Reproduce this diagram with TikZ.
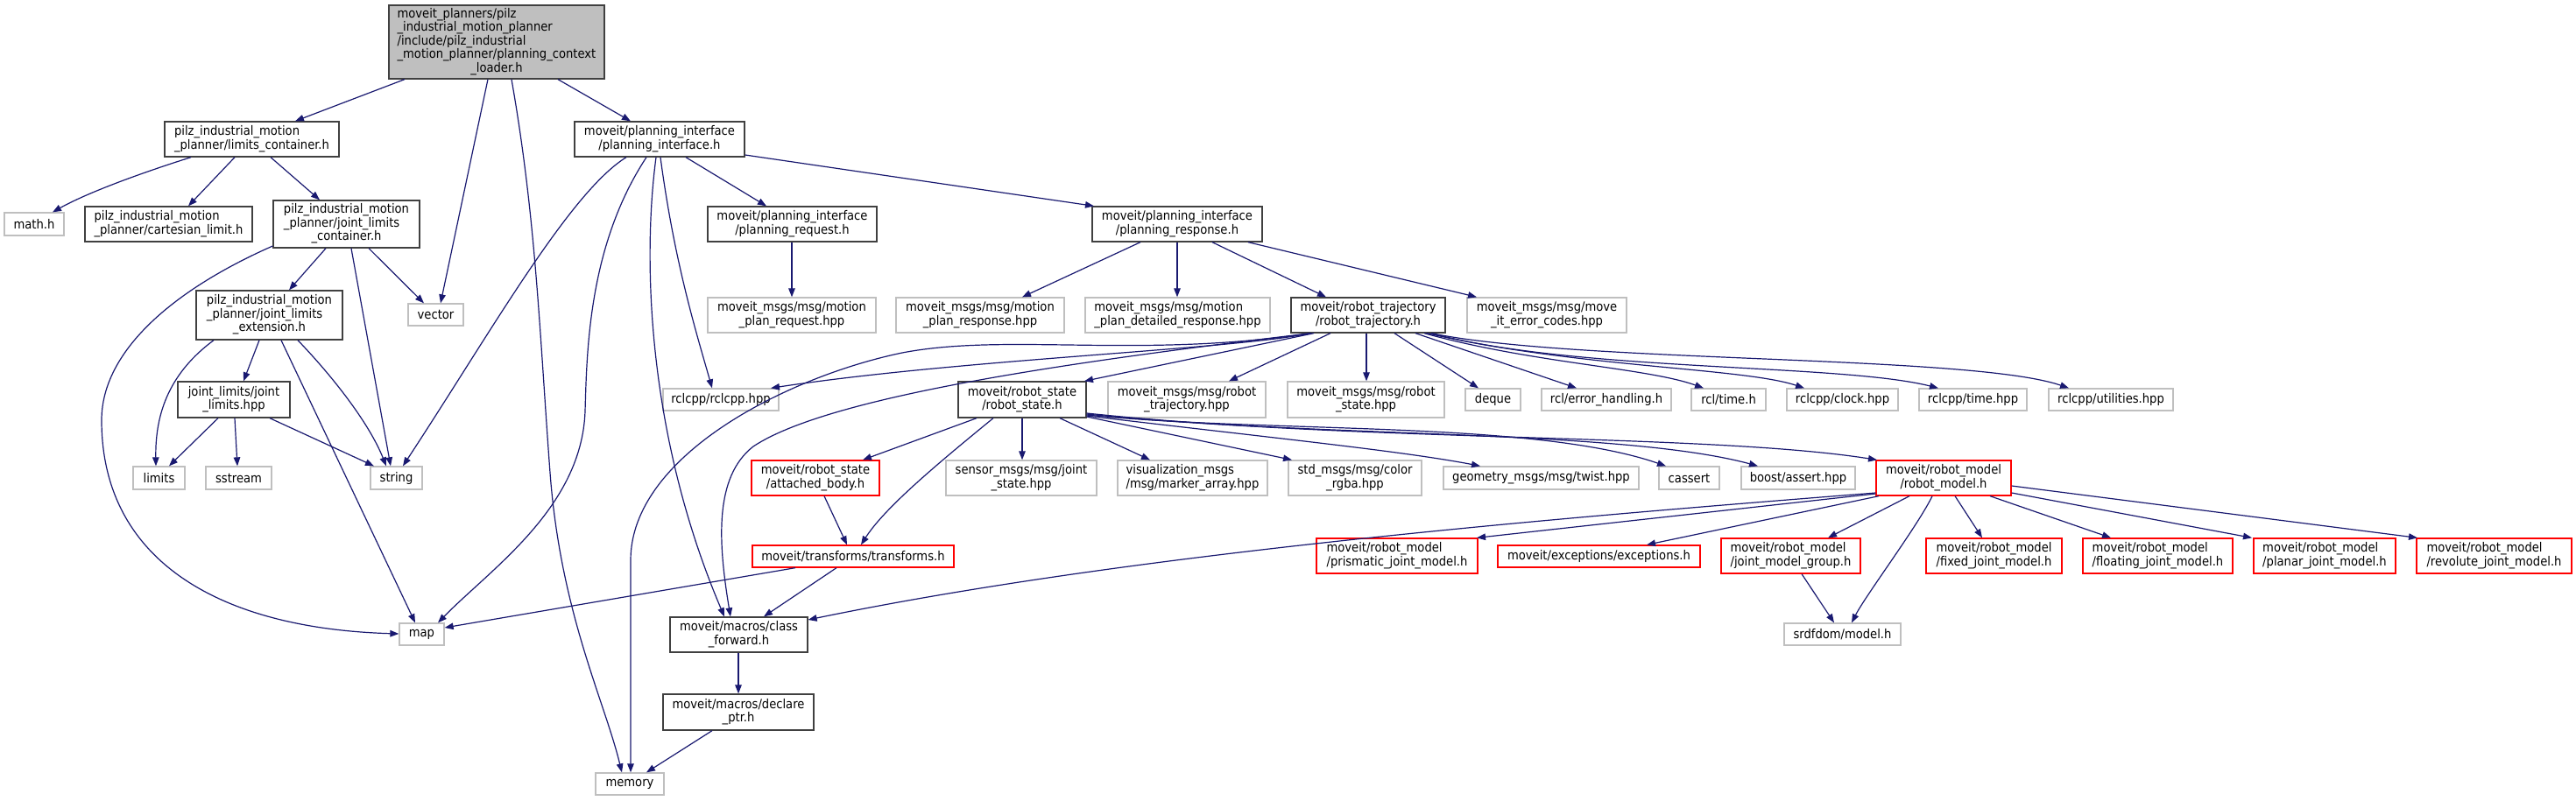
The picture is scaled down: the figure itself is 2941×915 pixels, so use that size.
\documentclass[tikz,border=0pt]{standalone}
\usepackage{fontspec}
\setmainfont{DejaVu Sans Condensed}
\usetikzlibrary{arrows.meta}
\definecolor{edgec}{HTML}{191970}
\definecolor{gfill}{HTML}{BFBFBF}
\definecolor{gdark}{HTML}{404040}
\renewcommand{\arraystretch}{1}
\newcommand\twol[2]{\begin{tabular}{@{}l@{}}#1\\\multicolumn{1}{@{}c@{}}{#2}\end{tabular}}
\newcommand\threel[3]{\begin{tabular}{@{}l@{}}#1\\#2\\\multicolumn{1}{@{}c@{}}{#3}\end{tabular}}
\newcommand\bx[7]{%
 \pgfmathsetmacro\bxw{#5-#3}\pgfmathsetmacro\bxh{#6-#4}%
 \pgfmathsetmacro\bxx{(#3+#5)/2}\pgfmathsetmacro\bxy{(#4+#6)/2}%
 \node[#2,minimum width=\bxw pt,minimum height=\bxh pt] (#1) at (\bxx,\bxy) {#7};}
\tikzset{
 box/.style={draw=gdark, line width=1.3pt, fill=white, inner sep=0pt, text=black, font={\fontsize{14.6pt}{14.8pt}\selectfont}},
 ext/.style={box, draw=gfill},
 trunc/.style={box, draw=red},
 root/.style={box, fill=gfill},
 edge/.style={draw=edgec, line width=1.2pt, -{Triangle[length=10pt,width=7.5pt]}},
}
\begin{document}
\begin{tikzpicture}[x=1pt,y=-1pt]
\fill[white] (0,0) rectangle (2941,915);
\useasboundingbox (0,0) rectangle (2941,915);
% nodes
\bx{top}{root}{444}{6}{690}{90}{\begin{tabular}{@{}l@{}}moveit\_planners/pilz\\\_industrial\_motion\_planner\\/include/pilz\_industrial\\\_motion\_planner/planning\_context\\\multicolumn{1}{@{}c@{}}{\_loader.h}\end{tabular}}
\bx{lc}{box}{188}{139}{387}{179}{\twol{pilz\_industrial\_motion}{\_planner/limits\_container.h}}
\bx{pi}{box}{656}{139}{850}{179}{\twol{moveit/planning\_interface}{/planning\_interface.h}}
\bx{math}{ext}{5}{243}{73}{269}{math.h}
\bx{cart}{box}{97}{236}{288}{276}{\twol{pilz\_industrial\_motion}{\_planner/cartesian\_limit.h}}
\bx{jlc}{box}{312}{229}{479}{283}{\threel{pilz\_industrial\_motion}{\_planner/joint\_limits}{\_container.h}}
\bx{preq}{box}{808}{236}{1001}{276}{\twol{moveit/planning\_interface}{/planning\_request.h}}
\bx{presp}{box}{1247}{236}{1441}{276}{\twol{moveit/planning\_interface}{/planning\_response.h}}
\bx{jle}{box}{224}{332}{391}{388}{\threel{pilz\_industrial\_motion}{\_planner/joint\_limits}{\_extension.h}}
\bx{vector}{ext}{466}{347}{529}{372}{vector}
\bx{mpreq}{ext}{808}{340}{1000}{380}{\twol{moveit\_msgs/msg/motion}{\_plan\_request.hpp}}
\bx{mpresp}{ext}{1023}{340}{1215}{380}{\twol{moveit\_msgs/msg/motion}{\_plan\_response.hpp}}
\bx{mpdet}{ext}{1239}{340}{1450}{380}{\twol{moveit\_msgs/msg/motion}{\_plan\_detailed\_response.hpp}}
\bx{rt}{box}{1474}{340}{1650}{380}{\twol{moveit/robot\_trajectory}{/robot\_trajectory.h}}
\bx{errc}{ext}{1675}{340}{1857}{380}{\twol{moveit\_msgs/msg/move}{\_it\_error\_codes.hpp}}
\bx{jlh}{box}{203}{436}{331}{477}{\twol{joint\_limits/joint}{\_limits.hpp}}
\bx{rclcpp}{ext}{757}{444}{889}{469}{rclcpp/rclcpp.hpp}
\bx{rs}{box}{1094}{436}{1240}{477}{\twol{moveit/robot\_state}{/robot\_state.h}}
\bx{rtmsg}{ext}{1265}{436}{1445}{477}{\twol{moveit\_msgs/msg/robot}{\_trajectory.hpp}}
\bx{rsmsg}{ext}{1470}{436}{1649}{477}{\twol{moveit\_msgs/msg/robot}{\_state.hpp}}
\bx{deque}{ext}{1673}{444}{1736}{469}{deque}
\bx{rclerr}{ext}{1760}{444}{1908}{469}{rcl/error\_handling.h}
\bx{rcltime}{ext}{1931}{444}{2016}{469}{rcl/time.h}
\bx{clock}{ext}{2040}{444}{2167}{469}{rclcpp/clock.hpp}
\bx{rtime}{ext}{2191}{444}{2314}{469}{rclcpp/time.hpp}
\bx{util}{ext}{2339}{444}{2481}{469}{rclcpp/utilities.hpp}
\bx{limits}{ext}{152}{533}{211}{559}{limits}
\bx{sstream}{ext}{235}{533}{310}{559}{sstream}
\bx{string}{ext}{423}{533}{482}{559}{string}
\bx{ab}{trunc}{858}{526}{1004}{566}{\twol{moveit/robot\_state}{/attached\_body.h}}
\bx{sensor}{ext}{1080}{526}{1252}{566}{\twol{sensor\_msgs/msg/joint}{\_state.hpp}}
\bx{vis}{ext}{1276}{526}{1447}{566}{\twol{visualization\_msgs}{/msg/marker\_array.hpp}}
\bx{color}{ext}{1471}{526}{1623}{566}{\twol{std\_msgs/msg/color}{\_rgba.hpp}}
\bx{twist}{ext}{1648}{533}{1871}{559}{geometry\_msgs/msg/twist.hpp}
\bx{cassert}{ext}{1894}{533}{1963}{559}{cassert}
\bx{boost}{ext}{1988}{533}{2118}{559}{boost/assert.hpp}
\bx{rm}{trunc}{2142}{526}{2296}{566}{\twol{moveit/robot\_model}{/robot\_model.h}}
\bx{transforms}{trunc}{859}{623}{1089}{648}{moveit/transforms/transforms.h}
\bx{prism}{trunc}{1503}{615}{1687}{655}{\twol{moveit/robot\_model}{/prismatic\_joint\_model.h}}
\bx{exc}{trunc}{1710}{623}{1941}{648}{moveit/exceptions/exceptions.h}
\bx{jmg}{trunc}{1965}{615}{2124}{655}{\twol{moveit/robot\_model}{/joint\_model\_group.h}}
\bx{fixed}{trunc}{2199}{615}{2354}{655}{\twol{moveit/robot\_model}{/fixed\_joint\_model.h}}
\bx{floating}{trunc}{2378}{615}{2549}{655}{\twol{moveit/robot\_model}{/floating\_joint\_model.h}}
\bx{planar}{trunc}{2573}{615}{2735}{655}{\twol{moveit/robot\_model}{/planar\_joint\_model.h}}
\bx{revolute}{trunc}{2759}{615}{2936}{655}{\twol{moveit/robot\_model}{/revolute\_joint\_model.h}}
\bx{map}{ext}{456}{712}{507}{737}{map}
\bx{cf}{box}{765}{705}{922}{745}{\twol{moveit/macros/class}{\_forward.h}}
\bx{srdf}{ext}{2037}{712}{2170}{737}{srdfdom/model.h}
\bx{dp}{box}{757}{793}{929}{834}{\twol{moveit/macros/declare}{\_ptr.h}}
\bx{memory}{ext}{680}{883}{758}{908}{memory}
% edges
\draw[edge] (462,0 |- top.south) -- (337,0 |- lc.north);
\draw[edge] (557,0 |- top.south) -- (503,0 |- vector.north);
\draw[edge] (584,0 |- top.south) .. controls (612,250) and (616,380) .. (628,540) .. controls (640,700) and (690,800) .. (710,0 |- memory.north);
\draw[edge] (637,0 |- top.south) -- (720,0 |- pi.north);
\draw[edge] (218,0 |- lc.south) .. controls (160,198) and (100,220) .. (60,0 |- math.north);
\draw[edge] (268,0 |- lc.south) -- (215,0 |- cart.north);
\draw[edge] (309,0 |- lc.south) -- (365,0 |- jlc.north);
\draw[edge] (jlc.west |- 0,281) .. controls (200,330) and (116,400) .. (116,480) .. controls (116,640) and (250,718) .. (map.west |- 0,724);
\draw[edge] (372,0 |- jlc.south) -- (330,0 |- jle.north);
\draw[edge] (401,0 |- jlc.south) -- (446,0 |- string.north);
\draw[edge] (421,0 |- jlc.south) -- (484,0 |- vector.north);
\draw[edge] (244,0 |- jle.south) .. controls (195,425) and (177,470) .. (178,0 |- limits.north);
\draw[edge] (296,0 |- jle.south) -- (278,0 |- jlh.north);
\draw[edge] (321,0 |- jle.south) -- (474,0 |- map.north);
\draw[edge] (340,0 |- jle.south) .. controls (375,425) and (420,480) .. (441,0 |- string.north);
\draw[edge] (249,0 |- jlh.south) -- (193,0 |- limits.north);
\draw[edge] (268,0 |- jlh.south) -- (271,0 |- sstream.north);
\draw[edge] (308,0 |- jlh.south) -- (427,0 |- string.north);
\draw[edge] (715,0 |- pi.south) .. controls (650,220) and (560,380) .. (460,0 |- string.north);
\draw[edge] (738,0 |- pi.south) .. controls (672,280) and (670,400) .. (668,470) .. controls (664,580) and (560,650) .. (500,0 |- map.north);
\draw[edge] (749,0 |- pi.south) .. controls (733,300) and (740,500) .. (827,0 |- cf.north);
\draw[edge] (754,0 |- pi.south) .. controls (770,300) and (795,380) .. (813,0 |- rclcpp.north);
\draw[edge] (783,0 |- pi.south) -- (875,0 |- preq.north);
\draw[edge] (pi.east |- 0,177) -- (1249,0 |- presp.north);
\draw[edge] (904,0 |- preq.south) -- (904,0 |- mpreq.north);
\draw[edge] (1302,0 |- presp.south) -- (1167,0 |- mpresp.north);
\draw[edge] (1344,0 |- presp.south) -- (1344,0 |- mpdet.north);
\draw[edge] (1384,0 |- presp.south) -- (1514,0 |- rt.north);
\draw[edge] (1425,0 |- presp.south) -- (1686,0 |- errc.north);
\draw[edge] (1497,0 |- rt.south) .. controls (1400,400) and (1100,410) .. (880,0 |- rclcpp.north);
\draw[edge] (1497,0 |- rt.south) .. controls (1300,410) and (1150,380) .. (1030,403) .. controls (900,430) and (720,520) .. (720,640) -- (720,0 |- memory.north);
\draw[edge] (1497,0 |- rt.south) .. controls (1250,410) and (950,450) .. (860,510) .. controls (815,545) and (820,620) .. (834,0 |- cf.north);
\draw[edge] (1500,0 |- rt.south) -- (1238,0 |- rs.north);
\draw[edge] (1519,0 |- rt.south) -- (1403,0 |- rtmsg.north);
\draw[edge] (1560,0 |- rt.south) -- (1560,0 |- rsmsg.north);
\draw[edge] (1592,0 |- rt.south) -- (1688,0 |- deque.north);
\draw[edge] (1616,0 |- rt.south) -- (1800,0 |- rclerr.north);
\draw[edge] (1626,0 |- rt.south) .. controls (1750,415) and (1880,420) .. (1945,0 |- rcltime.north);
\draw[edge] (1629,0 |- rt.south) .. controls (1800,420) and (1990,420) .. (2060,0 |- clock.north);
\draw[edge] (1634,0 |- rt.south) .. controls (1800,425) and (2100,415) .. (2213,0 |- rtime.north);
\draw[edge] (1634,0 |- rt.south) .. controls (1800,415) and (2250,405) .. (2362,0 |- util.north);
\draw[edge] (1115,0 |- rs.south) -- (985,0 |- ab.north);
\draw[edge] (1134,0 |- rs.south) .. controls (1070,530) and (1010,580) .. (983,0 |- transforms.north);
\draw[edge] (1167,0 |- rs.south) -- (1167,0 |- sensor.north);
\draw[edge] (1210,0 |- rs.south) -- (1313,0 |- vis.north);
\draw[edge] (rs.east |- 0,476) -- (1475,0 |- color.north);
\draw[edge] (rs.east |- 0,475) .. controls (1450,500) and (1600,515) .. (1690,0 |- twist.north);
\draw[edge] (rs.east |- 0,474) .. controls (1450,495) and (1750,480) .. (1902,0 |- cassert.north);
\draw[edge] (rs.east |- 0,473) .. controls (1500,500) and (1850,490) .. (2007,0 |- boost.north);
\draw[edge] (rs.east |- 0,472) .. controls (1550,505) and (1950,495) .. (2143,0 |- rm.north);
\draw[edge] (941,0 |- ab.south) -- (967,0 |- transforms.north);
\draw[edge] (908,0 |- transforms.south) -- (map.east |- 0,717);
\draw[edge] (955,0 |- transforms.south) -- (872,0 |- cf.north);
\draw[edge] (rm.west |- 0,563) .. controls (1800,590) and (1300,630) .. (cf.east |- 0,708);
\draw[edge] (rm.west |- 0,564) -- (1686,0 |- prism.north);
\draw[edge] (2145,0 |- rm.south) -- (1880,0 |- exc.north);
\draw[edge] (2180,0 |- rm.south) -- (2087,0 |- jmg.north);
\draw[edge] (2206,0 |- rm.south) .. controls (2190,600) and (2130,680) .. (2114,0 |- srdf.north);
\draw[edge] (2232,0 |- rm.south) -- (2263,0 |- fixed.north);
\draw[edge] (2272,0 |- rm.south) -- (2410,0 |- floating.north);
\draw[edge] (rm.east |- 0,563) -- (2571,0 |- planar.north);
\draw[edge] (rm.east |- 0,555) -- (2760,0 |- revolute.north);
\draw[edge] (2057,0 |- jmg.south) -- (2094,0 |- srdf.north);
\draw[edge] (843,0 |- cf.south) -- (843,0 |- dp.north);
\draw[edge] (813,0 |- dp.south) -- (738,0 |- memory.north);
\end{tikzpicture}
\end{document}
